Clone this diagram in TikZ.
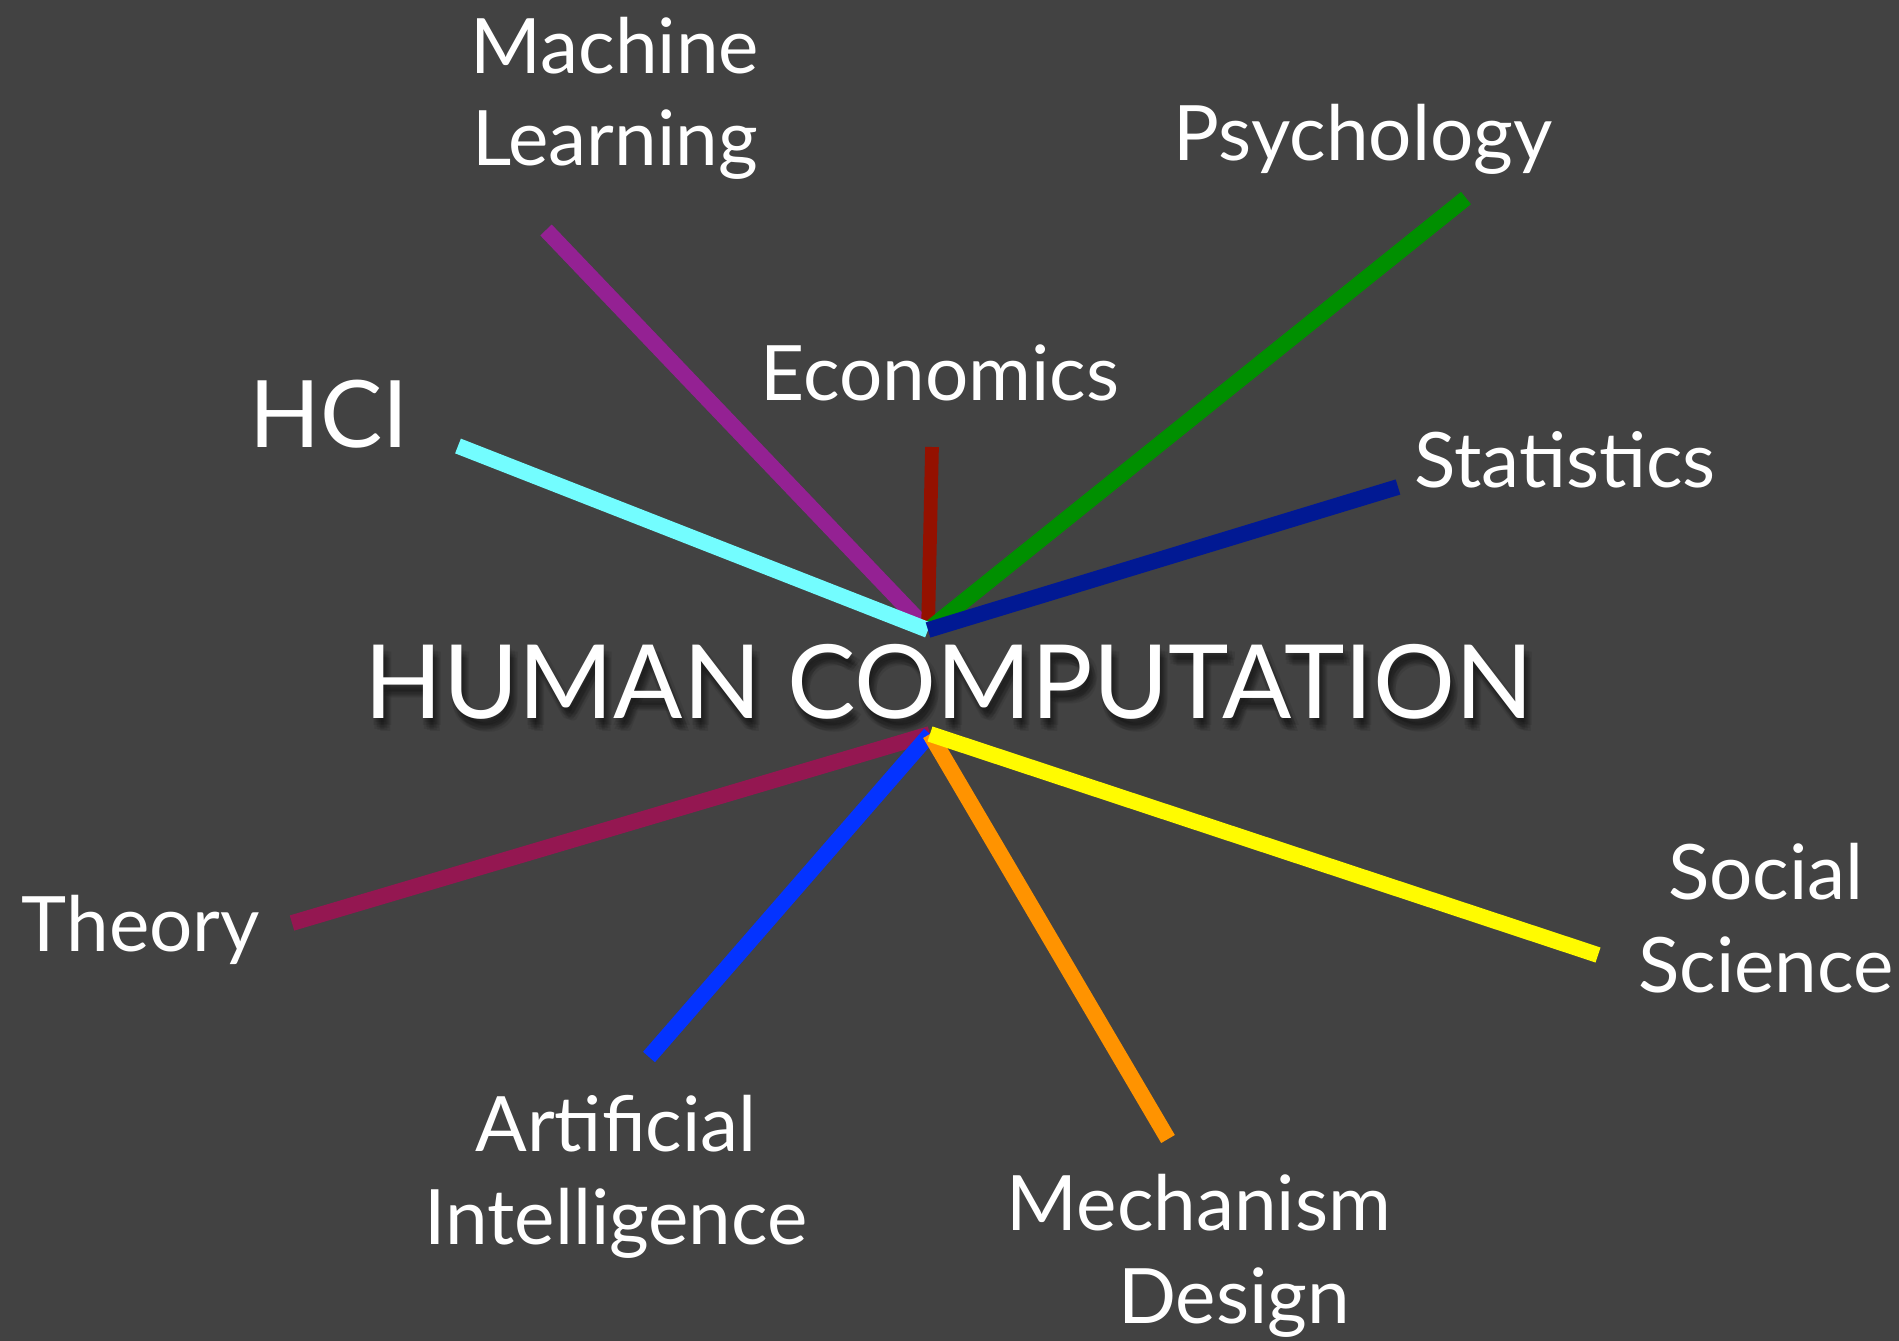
\documentclass[tikz,border=0pt]{standalone}
\usepackage{fontspec}
\setmainfont{Lato}

\definecolor{slate}{HTML}{424242}
\definecolor{mlpurple}{HTML}{942193}
\definecolor{ecored}{HTML}{941100}
\definecolor{psygreen}{HTML}{008F00}
\definecolor{statnavy}{HTML}{011993}
\definecolor{hcicyan}{HTML}{73FDFF}
\definecolor{theorymaroon}{HTML}{941751}
\definecolor{aiblue}{HTML}{0433FF}
\definecolor{mdorange}{HTML}{FF9300}
\definecolor{socyellow}{HTML}{FFFB00}

\tikzset{
  spoke/.style={line width=9pt},
  field/.style={text=white, align=center, anchor=base, inner sep=0pt,
    font=\fontsize{43.5}{52.7}\selectfont},
  headline/.style={field, font=\fontsize{58.3}{60}\selectfont},
}

\begin{document}
\begin{tikzpicture}[x=0.02cm, y=-0.02cm]
    \fill[slate] (0,0) rectangle (1899,1341);
    \useasboundingbox (0,0) rectangle (1899,1341);

    % hubs above and below the title
    \coordinate (top) at (928,630);
    \coordinate (bot) at (930,734);

    % outer ends of the spokes
    \coordinate (mlend) at (546,230);
    \coordinate (ecoend) at (932,447);
    \coordinate (psyend) at (1466,198);
    \coordinate (statend) at (1398,487);
    \coordinate (hciend) at (458,446);
    \coordinate (theoryend) at (292,923);
    \coordinate (aiend) at (649,1057);
    \coordinate (mdend) at (1168,1139);
    \coordinate (socend) at (1598,955);

    \draw[spoke, mlpurple] (top) -- (mlend);
    \draw[spoke, ecored, line width=7.8pt] (top) -- (ecoend);
    \draw[spoke, psygreen] (top) -- (psyend);
    \draw[spoke, hcicyan] (top) -- (hciend);
    \draw[spoke, statnavy] (top) -- (statend);
    \draw[spoke, theorymaroon] (bot) -- (theoryend);
    \draw[spoke, aiblue] (bot) -- (aiend);
    \draw[spoke, mdorange] (bot) -- (mdend);
    \draw[spoke, socyellow] (bot) -- (socend);

    % soft shadow under the title
    \foreach \dx/\dy [count=\i] in {2/4, 5/6, 3/9, 6/10, 0/7, 8/7, 4/12, 1/11, 7/13}
        \node[headline, text=black, opacity=0.08]
            (shadow\i) at (949+\dx,718+\dy) {HUMAN COMPUTATION};
    \node[headline] (title) at (949,718) {HUMAN COMPUTATION};

    \node[field] (ml) at (615,166) {Machine\\Learning};
    \node[field] (psy) at (1363,161) {Psychology};
    \node[field] (eco) at (940,400) {Economics};
    \node[field, font=\fontsize{53}{60}\selectfont] (hci) at (329,447) {HCI};
    \node[field] (stat) at (1565,487) {Statistics};
    \node[field] (theory) at (141,951) {Theory};
    \node[field] (soc) at (1766,992) {Social\\Science};
    \node[field] (ai) at (616,1244) {Artificial\\Intelligence};
    \node[field] (md) at (1199,1323) {Mechanism\\\hspace*{40pt}Design};
\end{tikzpicture}
\end{document}
